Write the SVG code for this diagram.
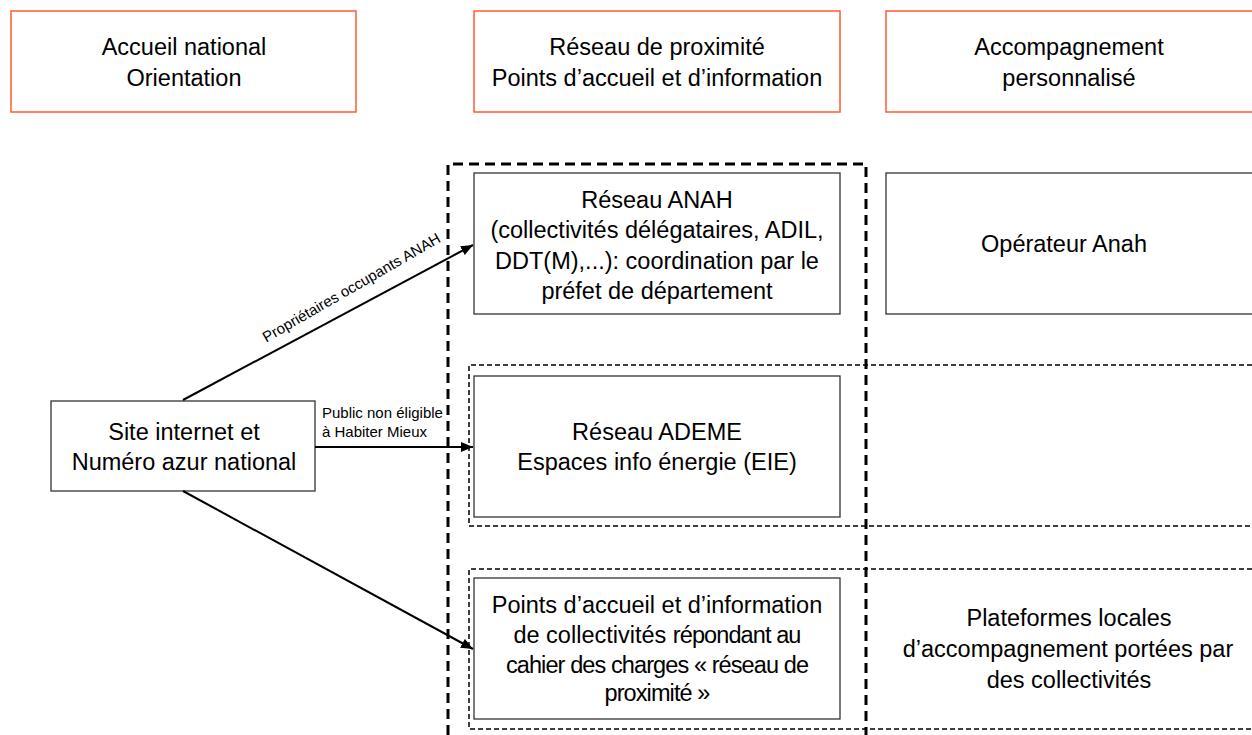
<svg xmlns="http://www.w3.org/2000/svg" width="1252" height="735" viewBox="0 0 1252 735">
<defs>
<style>
.hdr{fill:#fff;stroke:#ff5a36;stroke-width:1.5}
.box{fill:#fff;stroke:#333;stroke-width:1.3}
.t{font-family:"Liberation Sans",Arial,sans-serif;font-size:23.5px;fill:#000;text-anchor:middle}
.lbl{font-family:"Liberation Sans",Arial,sans-serif;font-size:15px;fill:#000}
.thick{fill:none;stroke:#000;stroke-width:3;stroke-dasharray:10,6}
.thin{fill:none;stroke:#000;stroke-width:1.5;stroke-dasharray:5,3}
.arr{fill:none;stroke:#000;stroke-width:2}
</style>
<marker id="ah" viewBox="0 0 12 10" refX="12" refY="5" markerWidth="12" markerHeight="10" markerUnits="userSpaceOnUse" orient="auto">
<path d="M0,0 L12,5 L0,10 z" fill="#000"/>
</marker>
</defs>
<rect width="1252" height="735" fill="#fff"/>

<g id="frames">
<path class="thick" d="M448,735 V164 H866 V735"/>
<path class="thin" d="M1260,365 H469 V526 H1260"/>
<path class="thin" d="M1260,569 H469 V729 H1260"/>
</g>

<g id="hdr-accueil">
<rect class="hdr" x="11" y="11" width="345" height="101"/>
<text class="t" x="184" y="55">Accueil national</text>
<text class="t" x="184" y="86">Orientation</text>
</g>
<g id="hdr-reseau">
<rect class="hdr" x="474" y="11" width="366" height="101"/>
<text class="t" x="657" y="55">Réseau de proximité</text>
<text class="t" x="657" y="86">Points d’accueil et d’information</text>
</g>
<g id="hdr-accomp">
<rect class="hdr" x="886" y="11" width="380" height="101"/>
<text class="t" x="1069" y="55">Accompagnement</text>
<text class="t" x="1069" y="86">personnalisé</text>
</g>

<g id="site">
<rect class="box" x="51" y="401" width="264" height="90"/>
<text class="t" x="184" y="440">Site internet et</text>
<text class="t" x="184" y="470">Numéro azur national</text>
</g>

<g id="anah">
<rect class="box" x="474" y="173" width="366" height="141"/>
<text class="t" x="657" y="208">Réseau ANAH</text>
<text class="t" x="657" y="238">(collectivités délégataires, ADIL,</text>
<text class="t" x="657" y="269">DDT(M),...): coordination par le</text>
<text class="t" x="657" y="299">préfet de département</text>
</g>

<g id="operateur">
<rect class="box" x="886" y="173" width="380" height="141"/>
<text class="t" x="1064" y="252">Opérateur Anah</text>
</g>

<g id="ademe">
<rect class="box" x="474" y="376" width="366" height="141"/>
<text class="t" x="657" y="440">Réseau ADEME</text>
<text class="t" x="657" y="470">Espaces info énergie (EIE)</text>
</g>

<g id="points">
<rect class="box" x="474" y="578" width="366" height="141"/>
<text class="t" x="657" y="613">Points d’accueil et d’information</text>
<text class="t" x="657" y="643">de collectivités <tspan style="letter-spacing:-0.9px">répondant au</tspan></text>
<text class="t" x="657" y="673" style="letter-spacing:-0.9px">cahier des charges « réseau de</text>
<text class="t" x="657" y="701" style="letter-spacing:-0.9px">proximité »</text>
</g>

<g id="plateformes">
<text class="t" x="1069" y="626">Plateformes locales</text>
<text class="t" x="1068" y="657">d’accompagnement portées par</text>
<text class="t" x="1069" y="688">des collectivités</text>
</g>

<g id="connectors">
<line class="arr" x1="183" y1="400" x2="473" y2="245" marker-end="url(#ah)"/>
<line class="arr" x1="315" y1="447" x2="473" y2="447" marker-end="url(#ah)"/>
<line class="arr" x1="183" y1="491" x2="473" y2="649" marker-end="url(#ah)"/>
<text class="lbl" text-anchor="middle" transform="translate(354,292) rotate(-30)">Propriétaires occupants ANAH</text>
<text class="lbl" x="322" y="418">Public non éligible</text>
<text class="lbl" x="322" y="437">à Habiter Mieux</text>
</g>
</svg>
